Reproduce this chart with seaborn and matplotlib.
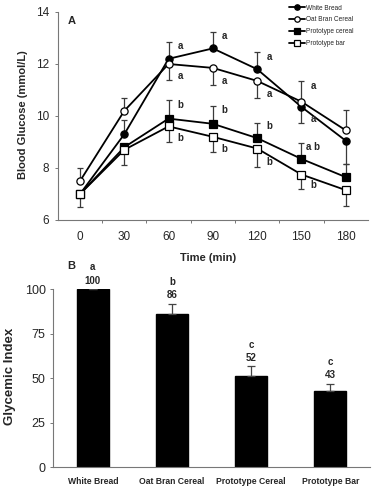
import numpy as np
import pandas as pd
import matplotlib
matplotlib.use("Agg")
import matplotlib.pyplot as plt
import seaborn as sns

# --- Panel A: blood glucose over time (mmol/L) ---
time_min = [0, 30, 60, 90, 120, 150, 180]

white_bread = [7.0, 9.3, 12.2, 12.6, 11.8, 10.35, 9.05]
oat_bran = [7.5, 10.2, 12.0, 11.85, 11.35, 10.55, 9.45]
proto_cereal = [7.0, 8.8, 9.9, 9.7, 9.15, 8.35, 7.65]
proto_bar = [7.0, 8.7, 9.6, 9.2, 8.75, 7.75, 7.15]

# SEM, drawn on one side only (+1 up, -1 down, 0 none)
white_err = [0, 0.55, 0.65, 0.65, 0.65, 0.6, 0.9]
white_dir = [0, 1, 1, 1, 1, -1, -1]
oat_err = [0.5, 0.5, 0.6, 0.65, 0.65, 0.8, 0.8]
oat_dir = [1, 1, -1, -1, -1, 1, 1]
cereal_err = [0, 0, 0.7, 0.7, 0.6, 0.6, 0.5]
cereal_dir = [0, 0, 1, 1, 1, 1, 1]
bar_err = [0.5, 0.6, 0.6, 0.6, 0.7, 0.55, 0.6]
bar_dir = [-1, -1, -1, -1, -1, -1, -1]

white_sig = ["", "", "a", "a", "a", "a", ""]
oat_sig = ["", "", "a", "a", "a", "a", ""]
cereal_sig = ["", "", "b", "b", "b", "a b", ""]
bar_sig = ["", "", "b", "b", "b", "b", ""]

# --- Panel B: glycemic index ---
foods = ["White Bread", "Oat Bran Cereal", "Prototype Cereal", "Prototype Bar"]
gi = [100, 85.8, 51.2, 42.8]
gi_err = [0, 6.0, 5.5, 4.0]
gi_labels = ["100", "86", "52", "43"]
gi_sig = ["a", "b", "c", "c"]

sns.set_theme(style="ticks")
plt.rcParams["font.family"] = ["Liberation Sans", "DejaVu Sans"]

fig = plt.figure(figsize=(3.86, 5.0), dpi=100)
ax1 = fig.add_axes([0.150, 0.56, 0.803, 0.416])
ax2 = fig.add_axes([0.138, 0.0654, 0.820, 0.3566])

series = [
    ("White Bread", white_bread, white_err, white_dir, white_sig, "o", "black"),
    ("Oat Bran Cereal", oat_bran, oat_err, oat_dir, oat_sig, "o", "white"),
    ("Prototype cereal", proto_cereal, cereal_err, cereal_dir, cereal_sig, "s", "black"),
    ("Prototype bar", proto_bar, bar_err, bar_dir, bar_sig, "s", "white"),
]

for i, (name, vals, err, d, sig, mk, face) in enumerate(series):
    vals = np.array(vals)
    err = np.array(err)
    d = np.array(d)
    lower = np.where(d < 0, err, 0)
    upper = np.where(d > 0, err, 0)
    ax1.errorbar(time_min, vals, yerr=[lower, upper], fmt="none",
                 ecolor="#3a3a3a", elinewidth=0.9, capsize=2.2, capthick=0.9,
                 zorder=2)
    sns.lineplot(x=time_min, y=vals, ax=ax1, color="black", lw=1.3,
                 marker=mk, markersize=5.2, markerfacecolor=face,
                 markeredgecolor="black", markeredgewidth=0.9,
                 label=name, zorder=3 + i)
    for t, v, e, dd, s in zip(time_min, vals, err, d, sig):
        if s:
            ax1.annotate(s, (t, v + dd * e * 0.75), xytext=(8.5, 0),
                         textcoords="offset points", ha="center", va="center",
                         fontsize=7, fontweight="bold")

ax1.set_xlim(-15, 195)
ax1.set_ylim(6, 14)
ax1.set_yticks([6, 8, 10, 12, 14])
ax1.set_xticks(time_min)
ax1.set_xticks(np.arange(15, 195, 30), minor=True)
ax1.tick_params(axis="x", which="major", length=0, pad=8, labelsize=8.5)
ax1.tick_params(axis="x", which="minor", length=2.5, width=0.7, color="#777")
ax1.tick_params(axis="y", length=2.5, width=0.7, color="#777", pad=4, labelsize=8.5)
ax1.set_xlabel("Time (min)", fontsize=8, fontweight="bold")
ax1.xaxis.set_label_coords(0.484, -0.16)
ax1.set_ylabel("Blood Glucose (mmol/L)", fontsize=8, fontweight="bold")
ax1.yaxis.set_label_coords(-0.097, 0.505)
ax1.text(0.046, 0.958, "A", transform=ax1.transAxes, fontsize=8,
         fontweight="bold", ha="center", va="center")
sns.despine(ax=ax1)
for sp in ["left", "bottom"]:
    ax1.spines[sp].set_color("#777")
    ax1.spines[sp].set_linewidth(0.8)

leg = ax1.legend(loc="upper left", bbox_to_anchor=(289 / 386, 1 - 4.5 / 500),
                 bbox_transform=fig.transFigure, frameon=False, fontsize=4.7,
                 handlelength=2.4, handletextpad=0.2, labelspacing=0.75,
                 borderpad=0, borderaxespad=0, markerscale=0.75)

# Panel B
sns.barplot(x=foods, y=gi, ax=ax2, color="black", width=0.4,
            saturation=1, edgecolor="black")
xpos = np.arange(len(foods))
ax2.errorbar(xpos, gi, yerr=[np.zeros(len(gi)), gi_err], fmt="none",
             ecolor="#444", elinewidth=0.9, capsize=3, capthick=0.9, zorder=3)
for x, v, e, lab, s in zip(xpos, gi, gi_err, gi_labels, gi_sig):
    ax2.annotate(lab, (x, v + e), xytext=(0, 2.5), textcoords="offset points",
                 ha="center", va="bottom", fontsize=7, fontweight="bold",
                 annotation_clip=False)
    ax2.annotate(s, (x, v + e), xytext=(0, 12), textcoords="offset points",
                 ha="center", va="bottom", fontsize=7, fontweight="bold",
                 annotation_clip=False)

ax2.set_xlim(-0.5, 3.5)
ax2.set_ylim(0, 100)
ax2.set_yticks([0, 25, 50, 75, 100])
ax2.tick_params(axis="x", length=0, pad=7, labelsize=6.2)
for lbl in ax2.get_xticklabels():
    lbl.set_fontweight("bold")
ax2.tick_params(axis="y", length=2.5, width=0.7, color="#777", pad=3, labelsize=9)
ax2.set_xlabel("")
ax2.set_ylabel("Glycemic Index", fontsize=9.5, fontweight="bold")
ax2.yaxis.set_label_coords(-0.119, 0.51)
ax2.text(0.056, 1.131, "B", transform=ax2.transAxes, fontsize=8,
         fontweight="bold", ha="center", va="center")
sns.despine(ax=ax2)
for sp in ["left", "bottom"]:
    ax2.spines[sp].set_color("#777")
    ax2.spines[sp].set_linewidth(0.8)

fig.savefig("out.png", dpi=100)
